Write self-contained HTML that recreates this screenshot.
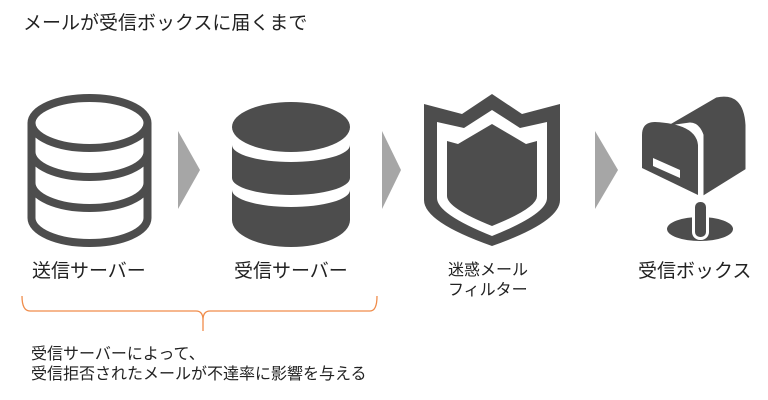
<!DOCTYPE html>
<html><head><meta charset="utf-8"><style>
body{margin:0;background:#fff;}
.t{position:absolute;font-family:"Liberation Sans","Noto Sans CJK JP",sans-serif;color:#222;white-space:nowrap;line-height:1}
</style></head><body>
<div style="position:relative;width:768px;height:400px;overflow:hidden">
<svg width="768" height="400" style="position:absolute;left:0;top:0">
<g fill="none" stroke="#4d4d4d" stroke-width="8">
 <ellipse cx="89.5" cy="123" rx="58" ry="25"/>
 <path d="M31.5 123 V218 A58 25 0 0 0 147.5 218 V123"/>
 <path d="M31.5 152 A58 25 0 0 0 147.5 152"/>
 <path d="M31.5 183 A58 25 0 0 0 147.5 183"/>
</g>
<g fill="#4d4d4d">
 <ellipse cx="291" cy="127" rx="59" ry="25"/>
 <path d="M232 145 A59 17 0 0 0 350 145 V178 A59 17 0 0 1 232 178Z"/>
 <path d="M232 190 A59 17 0 0 0 350 190 V220 A59 27 0 0 1 232 220Z"/>
 <path d="M178 131 L200 170 L178 209Z" fill="#a6a6a6"/>
 <path d="M382 131 L401 170 L382 209Z" fill="#a6a6a6"/>
 <path d="M595 131 L618 170 L595 209Z" fill="#a6a6a6"/>
 <!-- shield -->
 <path d="M492 94 L522 114 L560 104 V200 Q560 222 492 246 Q424 222 424 200 V104 L462 114Z"/>
 <path d="M492 110 L520 128 L547 122 V198 Q547 214 492 236 Q437 214 437 198 V122 L464 128Z" fill="#fff"/>
 <path d="M492 124 L526 144 L537 141 V196 Q537 208 492 226 Q447 208 447 196 V141 L458 144Z"/>
 <!-- mailbox -->
 <ellipse cx="700" cy="229" rx="33" ry="12"/>
 <rect x="692" y="200" width="17" height="40" rx="8" fill="#fff"/>
 <rect x="695" y="202" width="11" height="35" rx="5"/>
 <path d="M661 128 L716 96 Q745 90 747 125 V170 L702 198 V135 Q698 124 690 124Z" stroke="#fff" stroke-width="3"/>
 <path d="M642 135 Q642 122 655 122 Q696 124 698 145 V195 L642 168Z"/>
 <path d="M653 158 L680 170 V178 L653 166Z" fill="#fff"/>
 <!-- bracket -->
 <path d="M22 296 Q22 311 30 311 H196 Q203 311 203 320 V331 M203 320 Q203 311 210 311 H370 Q377 311 377 296" fill="none" stroke="#f08c4a" stroke-width="1.3"/>
</g>
</svg>
<div class="t" style="left:23px;top:14px;font-size:19px">メールが受信ボックスに届くまで</div>
<div class="t" style="left:32px;top:262px;font-size:19px">送信サーバー</div>
<div class="t" style="left:234px;top:262px;font-size:19px">受信サーバー</div>
<div class="t" style="left:448px;top:261px;font-size:16px;line-height:20px">迷惑メール<br>フィルター</div>
<div class="t" style="left:638px;top:262px;font-size:19px">受信ボックス</div>
<div class="t" style="left:31px;top:345px;font-size:16px;line-height:20px">受信サーバーによって、<br>受信拒否されたメールが不達率に影響を与える</div>
</div>
</body></html>
